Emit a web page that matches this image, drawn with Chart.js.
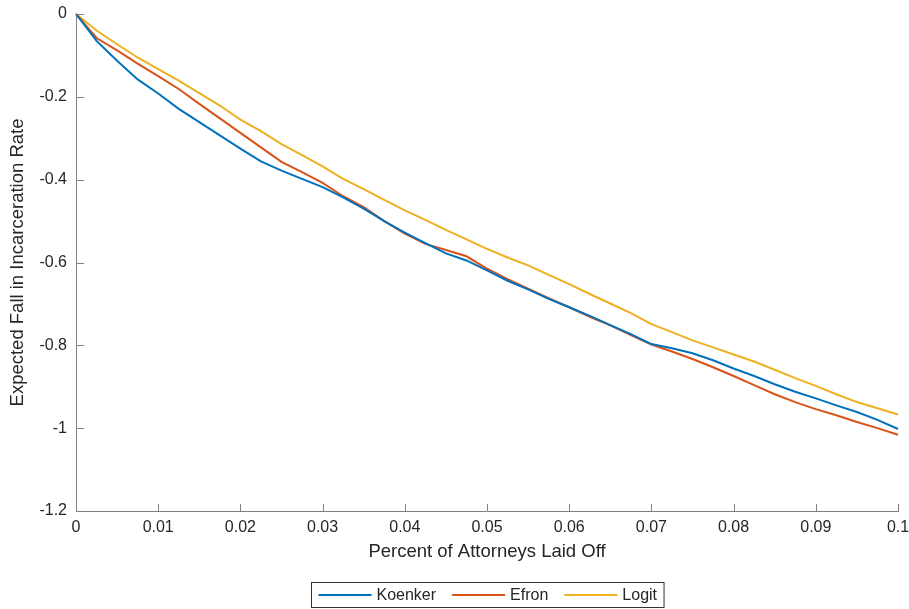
<!DOCTYPE html>
<html>
<head>
<meta charset="utf-8">
<title>Expected Fall in Incarceration Rate</title>
<script src="https://cdn.jsdelivr.net/npm/chart.js@4.4.1/dist/chart.umd.min.js"></script>
<style>
  html, body { margin: 0; padding: 0; background: #fff; }
  #wrap { width: 909px; height: 609px; }
</style>
</head>
<body>
<div id="wrap"><canvas id="myChart" width="909" height="609"></canvas></div>
<script>
// share of attorneys laid off
let layoffShare = [0, 0.0025, 0.005, 0.0075, 0.01, 0.0125, 0.015, 0.0175, 0.02, 0.0225,
  0.025, 0.0275, 0.03, 0.0325, 0.035, 0.0375, 0.04, 0.0425, 0.045, 0.0475,
  0.05, 0.0525, 0.055, 0.0575, 0.06, 0.0625, 0.065, 0.0675, 0.07, 0.0725,
  0.075, 0.0775, 0.08, 0.0825, 0.085, 0.0875, 0.09, 0.0925, 0.095, 0.0975, 0.1]

let koenker = [0, -0.065, -0.113, -0.158, -0.192, -0.229, -0.261, -0.293, -0.325, -0.356,
  -0.378, -0.398, -0.418, -0.443, -0.470, -0.500, -0.528, -0.553, -0.578, -0.595,
  -0.619, -0.644, -0.665, -0.688, -0.708, -0.729, -0.751, -0.773, -0.797, -0.807,
  -0.819, -0.836, -0.856, -0.874, -0.894, -0.912, -0.928, -0.945, -0.961, -0.980, -1.002]

let efron = [0, -0.058, -0.088, -0.120, -0.150, -0.181, -0.217, -0.252, -0.287, -0.322,
  -0.357, -0.382, -0.408, -0.440, -0.466, -0.500, -0.530, -0.555, -0.570, -0.585,
  -0.615, -0.640, -0.663, -0.686, -0.708, -0.731, -0.752, -0.775, -0.798, -0.815,
  -0.833, -0.853, -0.874, -0.896, -0.918, -0.937, -0.954, -0.969, -0.985, -1.000, -1.016]

let logit = [0, -0.040, -0.073, -0.105, -0.133, -0.161, -0.191, -0.221, -0.255, -0.283,
  -0.314, -0.341, -0.368, -0.398, -0.423, -0.449, -0.474, -0.497, -0.521, -0.544,
  -0.567, -0.588, -0.607, -0.630, -0.652, -0.676, -0.699, -0.722, -0.749, -0.768,
  -0.788, -0.805, -0.822, -0.839, -0.859, -0.879, -0.898, -0.918, -0.937, -0.952, -0.967]

let seriesNames = ['Koenker', 'Efron', 'Logit']
let seriesColors = ['#0072BD', '#D95319', '#EDB120']

let xTicks = [0, 0.01, 0.02, 0.03, 0.04, 0.05, 0.06, 0.07, 0.08, 0.09, 0.1]
let xTickLabels = ['0', '0.01', '0.02', '0.03', '0.04', '0.05', '0.06', '0.07', '0.08', '0.09', '0.1']
let yTicks = [-1.2, -1, -0.8, -0.6, -0.4, -0.2, 0]
let yTickLabels = ['-1.2', '-1', '-0.8', '-0.6', '-0.4', '-0.2', '0']

let fontFamily = '"Liberation Sans", Arial, Helvetica, sans-serif'
let textColor = '#262626'
let axisColor = '#808080'

function toPoints(values) {
  return values.map((v, i) => ({ x: layoffShare[i], y: v }))
}

let allSeries = [koenker, efron, logit]
let datasets = allSeries.map((values, i) => ({
  label: seriesNames[i],
  data: toPoints(values),
  borderColor: seriesColors[i],
  backgroundColor: seriesColors[i],
  borderWidth: 2,
  pointRadius: 0,
  tension: 0,
  clip: 4
}))

// small tick marks pointing into the plot, like the axes box style
let innerTicks = {
  id: 'innerTicks',
  afterDatasetsDraw(chart) {
    let ctx = chart.ctx
    let area = chart.chartArea
    let xs = chart.scales.x
    let ys = chart.scales.y
    ctx.save()
    ctx.strokeStyle = axisColor
    ctx.lineWidth = 1
    ctx.beginPath()
    xs.ticks.forEach((t, i) => {
      let px = Math.round(xs.getPixelForTick(i)) + 0.5
      ctx.moveTo(px, area.bottom)
      ctx.lineTo(px, area.bottom - 7)
    })
    ys.ticks.forEach((t, i) => {
      let py = Math.round(ys.getPixelForTick(i)) + 0.5
      ctx.moveTo(area.left, py)
      ctx.lineTo(area.left + 8, py)
    })
    ctx.stroke()
    ctx.restore()
  }
}

// boxed legend under the axis title
let boxLegend = {
  id: 'boxLegend',
  afterDraw(chart) {
    let ctx = chart.ctx
    let area = chart.chartArea
    let sample = 53, gapText = 5, gapItem = 16, pad = 7
    ctx.save()
    ctx.font = '16px ' + fontFamily
    let widths = chart.data.datasets.map(d => ctx.measureText(d.label).width)
    let total = pad * 2
    widths.forEach((w, i) => { total += sample + gapText + w + (i > 0 ? gapItem : 0) })
    let boxH = 25
    let cx = (area.left + area.right) / 2
    let left = Math.round(cx - total / 2) + 0.5
    let top = 582.5
    ctx.fillStyle = '#fff'
    ctx.fillRect(left, top, total, boxH)
    ctx.strokeStyle = '#333'
    ctx.lineWidth = 1
    ctx.strokeRect(left, top, total, boxH)
    let x = left + pad
    let midY = top + boxH / 2
    chart.data.datasets.forEach((d, i) => {
      if (i > 0) x += gapItem
      ctx.strokeStyle = d.borderColor
      ctx.lineWidth = 2
      ctx.beginPath()
      ctx.moveTo(x, midY)
      ctx.lineTo(x + sample, midY)
      ctx.stroke()
      x += sample + gapText
      ctx.fillStyle = textColor
      ctx.textAlign = 'left'
      ctx.textBaseline = 'middle'
      ctx.fillText(d.label, x, midY + 1)
      x += widths[i]
    })
    ctx.restore()
  }
}

var ctx = document.getElementById('myChart').getContext('2d')
var myChart = new Chart(ctx, {
  type: 'line',
  data: { datasets: datasets },
  plugins: [innerTicks, boxLegend],
  options: {
    responsive: false,
    animation: false,
    layout: { padding: { left: 0, right: 11, top: 14, bottom: 38 } },
    plugins: {
      legend: { display: false },
      tooltip: { enabled: false }
    },
    scales: {
      x: {
        type: 'linear',
        min: 0,
        max: 0.1,
        afterBuildTicks: (scale) => { scale.ticks = xTicks.map(v => ({ value: v })) },
        afterFit: (scale) => {
          scale.height = 60
          scale.paddingLeft = 0
          scale.paddingRight = 0
        },
        grid: { display: true, drawOnChartArea: false, drawTicks: false },
        border: { display: true, color: axisColor, width: 1 },
        ticks: {
          maxRotation: 0,
          autoSkip: false,
          padding: 7,
          color: textColor,
          font: { family: fontFamily, size: 16 },
          callback: (v) => xTickLabels[xTicks.indexOf(v)]
        },
        title: {
          display: true,
          text: 'Percent of Attorneys Laid Off',
          color: textColor,
          font: { family: fontFamily, size: 18.5 },
          padding: { top: 0, bottom: 8 }
        }
      },
      y: {
        min: -1.2,
        max: 0,
        afterBuildTicks: (scale) => { scale.ticks = yTicks.map(v => ({ value: v })) },
        afterFit: (scale) => {
          scale.width = 76
          scale.paddingTop = 0
          scale.paddingBottom = 0
        },
        grid: { display: true, drawOnChartArea: false, drawTicks: false },
        border: { display: true, color: axisColor, width: 1 },
        ticks: {
          autoSkip: false,
          padding: 9,
          color: textColor,
          font: { family: fontFamily, size: 16 },
          callback: (v) => yTickLabels[yTicks.indexOf(v)]
        },
        title: {
          display: true,
          text: 'Expected Fall in Incarceration Rate',
          color: textColor,
          font: { family: fontFamily, size: 18.5 },
          padding: { top: 7, bottom: 0 }
        }
      }
    }
  }
})
</script>
</body>
</html>
